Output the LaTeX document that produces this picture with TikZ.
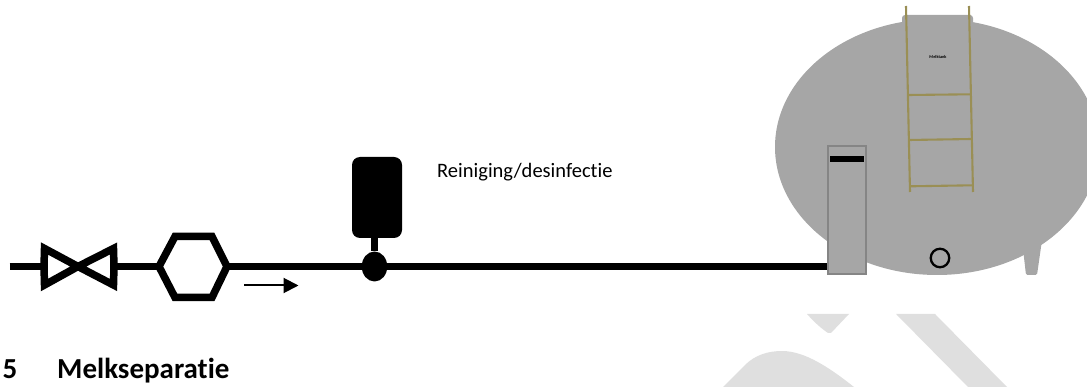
\documentclass[tikz,border=0pt]{standalone}
\usepackage{fontspec}
\setmainfont[Ligatures=NoCommon]{Carlito}
\usetikzlibrary{shapes.geometric,arrows.meta}
\definecolor{tankgrey}{HTML}{A6A6A6}
\definecolor{boxgrey}{HTML}{858585}
\definecolor{laddercol}{HTML}{9A8F55}
\definecolor{wmark}{HTML}{DFDFDF}
\tikzset{
  pipe/.style={line width=7pt,black},
  symbolline/.style={line width=7.5pt,black,line join=miter,fill=white},
  ladderline/.style={line width=2.1pt,laddercol},
  tankfill/.style={fill=tankgrey,draw=none},
  wmarkshape/.style={fill=wmark,draw=none},
}
\begin{document}
\begin{tikzpicture}[x=1pt,y=-1pt]
\useasboundingbox (0,0) rectangle (1087,387);
% watermark fragments
\fill[wmarkshape] (807,314) .. controls (815,323) and (822,329) .. (828,333) -- (831,333) -- (849,314) -- cycle;
\fill[wmarkshape] (896,314) -- (935,314) -- (1007,387) -- (968,387) -- cycle;
\fill[wmarkshape] (723,387) -- (745,365) .. controls (755,355) and (768,351) .. (782,351) .. controls (805,351) and (830,368) .. (854,387) -- cycle;
% tank
\node[ellipse,tankfill,minimum width=324pt,minimum height=256pt,inner sep=0pt] (tank) at (937,147) {};
\fill[tankgrey,rounded corners=3pt] (902,30) -- (902,15) -- (973,15) -- (973,30) -- cycle;
\fill[tankgrey,rounded corners=1.5pt] (1022,240) -- (1042,240) -- (1037,275) -- (1026,275) -- cycle;
% ladder
\coordinate (railAtop) at (906,6);
\coordinate (railAbot) at (910,192);
\coordinate (railBtop) at (969,6);
\coordinate (railBbot) at (973,192);
\draw[ladderline] (railAtop) -- (railAbot);
\draw[ladderline] (railBtop) -- (railBbot);
\draw[ladderline] (908.2,95) -- (971,94.3);
\draw[ladderline] (909,140) -- (971.5,139);
\draw[ladderline] (910,186.3) -- (972.7,185.3);
\node[font=\bfseries,scale=0.24,text=black] (label) at (938,57) {\fontsize{18pt}{18pt}\selectfont Melktank};
\node[circle,draw=black,line width=2.3pt,fill=none,minimum size=18.5pt,inner sep=0pt] (drain) at (940,258) {};
% gauge box
\node[rectangle,draw=boxgrey,line width=2pt,fill=tankgrey,minimum width=38pt,minimum height=128pt,inner sep=0pt] (gauge) at (847,210.5) {};
\fill[black] (829.5,156) rectangle (864,162.5);
% pipe coordinates
\coordinate (start) at (9.5,266.5);
\coordinate (valveL) at (44,266.5);
\coordinate (valveC) at (78,266.5);
\coordinate (valveR) at (114,266.5);
\coordinate (hexL) at (159,266.5);
\coordinate (hexR) at (227,266.5);
% vessel and junction
\node[rectangle,rounded corners=8pt,fill=black,draw=none,minimum width=50pt,minimum height=81pt,inner sep=0pt] (vessel) at (377,197.5) {};
\node[ellipse,fill=black,draw=none,minimum width=25.5pt,minimum height=30pt,inner sep=0pt] (junction) at (374.5,266.5) {};
\draw[line width=7pt,black] (vessel.south -| junction) -- (junction);
\draw[pipe] (start) -- (valveL);
\draw[pipe] (valveR) -- (hexL);
\draw[pipe] (hexR) -- (junction);
\draw[pipe] (junction) -- (gauge.west |- junction);
% valve
\draw[symbolline,miter limit=10] (valveL) -- (44.5,248.5) -- (valveC) -- (44.5,285) -- cycle;
\draw[symbolline,miter limit=10] (valveR) -- (113.5,248.5) -- (valveC) -- (113.5,285) -- cycle;
% hexagon
\draw[symbolline] (hexL) -- (175,236.5) -- (212,236.5) -- (hexR) -- (212,297.5) -- (175,297.5) -- cycle;
% flow arrow
\coordinate (arrA) at (244,285.5);
\coordinate (arrB) at (298.5,285.5);
\draw[line width=2pt,-{Triangle[length=15pt,width=15pt]}] (arrA) -- (arrB);
% text
\node[anchor=base west,inner sep=0pt,font=\fontsize{20.5pt}{24pt}\selectfont] (rein) at (437,177.5) {Reiniging/desinfectie};
\node[anchor=base west,inner sep=0pt,font=\bfseries\fontsize{29pt}{33pt}\selectfont] (num) at (2.5,378) {5};
\node[anchor=base west,inner sep=0pt,font=\bfseries\fontsize{29pt}{33pt}\selectfont] (head) at (57,378) {Melkseparatie};
\end{tikzpicture}
\end{document}
